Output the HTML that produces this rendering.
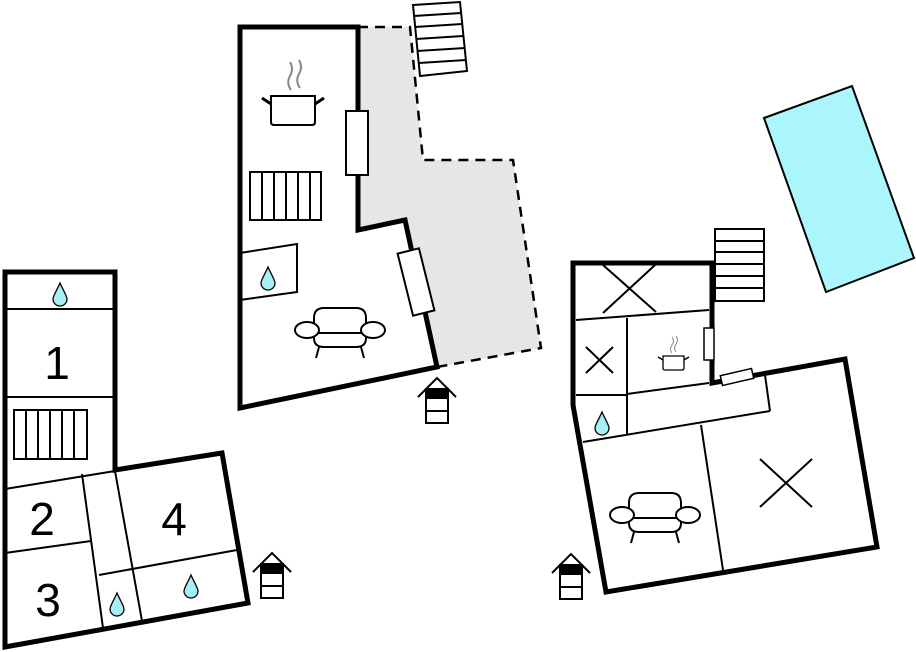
<!DOCTYPE html>
<html><head><meta charset="utf-8"><style>
html,body{margin:0;padding:0;background:#fff;}
svg{display:block;}
text{font-family:"Liberation Sans",sans-serif;}
</style></head><body>
<svg width="916" height="652" viewBox="0 0 916 652" xmlns="http://www.w3.org/2000/svg">
<defs>
  <g id="drop"><path d="M0,-11 C3,-4 7,2 7,5 A7,7 0 0 1 -7,5 C-7,2 -3,-4 0,-11 Z" fill="#a8eef5" stroke="#000" stroke-width="1.3"/></g>
  <g id="ent" fill="none" stroke="#000">
    <path d="M-19,22 L0,3 L19,22" stroke-width="2"/>
    <rect x="-11" y="14" width="22" height="34" fill="#fff" stroke-width="2"/>
    <rect x="-11" y="14" width="22" height="10" fill="#000" stroke="none"/>
    <line x1="-11" y1="36" x2="11" y2="36" stroke-width="2"/>
  </g>
  <g id="sofa" fill="#fff" stroke="#000" stroke-width="2">
    <path d="M-26,0 L-26,-12 Q-26,-22 -16,-22 L16,-22 Q26,-22 26,-12 L26,0"/>
    <path d="M-26,3 L-26,8 Q-26,17 -16,17 L16,17 Q26,17 26,8 L26,3"/>
    <line x1="-24" y1="3" x2="24" y2="3"/>
    <ellipse cx="-33" cy="0" rx="12" ry="8"/>
    <ellipse cx="33" cy="0" rx="12" ry="8"/>
    <line x1="-21" y1="17" x2="-24" y2="28"/>
    <line x1="21" y1="17" x2="24" y2="28"/>
  </g>
</defs>

<!-- Pool -->
<polygon points="764,118 852,86 914,258 826,292" fill="#aaf6fc" stroke="#000" stroke-width="2"/>

<!-- ===== Left building ===== -->
<g fill="none" stroke="#000">
  <polygon points="5,272 115,272 115,470 222,453 248,603 5,647" stroke-width="5" stroke-linejoin="miter" fill="#fff"/>
  <line x1="5" y1="309" x2="115" y2="309" stroke-width="2"/>
  <line x1="5" y1="397" x2="115" y2="397" stroke-width="2"/>
  <line x1="5" y1="489" x2="115" y2="471" stroke-width="2"/>
  <line x1="5" y1="553" x2="91" y2="541" stroke-width="2"/>
  <line x1="82" y1="474" x2="103" y2="628" stroke-width="2"/>
  <line x1="115" y1="471" x2="142" y2="621" stroke-width="2"/>
  <line x1="99" y1="575" x2="237" y2="550" stroke-width="2"/>
  <rect x="14" y="410" width="73" height="49" stroke-width="2"/>
  <path d="M26,410V459M38,410V459M50,410V459M62,410V459M74,410V459" stroke-width="2"/>
</g>
<text x="57" y="379" font-size="46" text-anchor="middle">1</text>
<text x="42" y="535" font-size="46" text-anchor="middle">2</text>
<text x="48" y="616" font-size="46" text-anchor="middle">3</text>
<text x="174" y="535" font-size="46" text-anchor="middle">4</text>
<use href="#drop" x="60" y="294"/>
<use href="#drop" x="117" y="604"/>
<use href="#drop" x="191" y="586"/>
<use href="#ent" x="272" y="550"/>

<!-- ===== Middle building ===== -->
<polygon points="358,27 410,27 423,160 513,160 541,348 437,367 405,220 358,230" fill="#e6e6e6"/>
<path d="M358,27 L410,27 L423,160 L513,160 L541,348 L437,367" fill="none" stroke="#000" stroke-width="2.5" stroke-dasharray="10,7"/>
<g fill="none" stroke="#000">
  <polygon points="240,27 358,27 358,230 405,220 437,367 240,408" stroke-width="5" fill="none"/>
  <rect x="346" y="111" width="22" height="64" fill="#fff" stroke-width="2"/>
  <rect x="-11" y="-32" width="22" height="64" fill="#fff" stroke-width="2" transform="translate(416,282) rotate(-14)"/>
  <rect x="250" y="172" width="71" height="48" stroke-width="2"/>
  <path d="M262,172V220M274,172V220M286,172V220M298,172V220M310,172V220" stroke-width="2"/>
  <polygon points="240,253 297,244 297,292 240,300" stroke-width="2"/>
  <path d="M271,96 H315 V122 Q315,125 312,125 H274 Q271,125 271,122 Z" fill="#fff" stroke-width="2"/>
  <path d="M271,104 L262,98 M315,104 L324,98" stroke-width="3"/>
  <path d="M291,90 Q286,83 290,76 Q294,69 290,62 M300,88 Q295,81 299,74 Q303,67 299,60" stroke="#888" stroke-width="2"/>
  <polygon points="413,5 460,2 467,71 420,76" fill="#fff" stroke-width="2"/>
  <path d="M414,16 L461,13 M415,27 L462,24 M416,39 L463,36 M417,51 L465,48 M419,63 L466,60" stroke-width="2"/>
</g>
<use href="#drop" x="268" y="278"/>
<use href="#sofa" x="340" y="330"/>
<use href="#ent" x="437" y="375"/>

<!-- ===== Right building ===== -->
<g fill="none" stroke="#000">
  <rect x="715" y="229" width="49" height="72" fill="#fff" stroke-width="2"/>
  <path d="M715,241H764M715,252H764M715,264H764M715,276H764M715,288H764" stroke-width="2"/>
  <path d="M712,383 L845,359 L877,547 L606,592 L573,405 L573,263 L712,263 Z" stroke-width="5" fill="#fff"/>
  <line x1="576" y1="320" x2="709" y2="310" stroke-width="2"/>
  <line x1="603" y1="265" x2="656" y2="312" stroke-width="2"/>
  <line x1="655" y1="265" x2="603" y2="313" stroke-width="2"/>
  <line x1="627" y1="318" x2="627" y2="435" stroke-width="2"/>
  <line x1="576" y1="395" x2="627" y2="395" stroke-width="2"/>
  <line x1="627" y1="394" x2="709" y2="383" stroke-width="2"/>
  <line x1="765" y1="375" x2="770" y2="411" stroke-width="2"/>
  <line x1="583" y1="442" x2="770" y2="411" stroke-width="2"/>
  <line x1="701" y1="425" x2="723" y2="570" stroke-width="2"/>
  <line x1="586" y1="347" x2="613" y2="373" stroke-width="2"/>
  <line x1="613" y1="347" x2="586" y2="373" stroke-width="2"/>
  <line x1="760" y1="459" x2="812" y2="507" stroke-width="2"/>
  <line x1="812" y1="459" x2="760" y2="507" stroke-width="2"/>
  <rect x="704" y="328" width="10" height="32" fill="#fff" stroke-width="1.5"/>
  <rect x="-16" y="-5" width="32" height="10" fill="#fff" stroke-width="1.5" transform="translate(737,377) rotate(-13)"/>
  <path d="M663,356 H684 V368 Q684,370 682,370 H665 Q663,370 663,368 Z" fill="#fff" stroke-width="1.3"/>
  <path d="M663,360 L658,357 M684,360 L689,357" stroke-width="1.5"/>
  <path d="M672,353 Q669,349 672,345 Q675,341 672,337 M676,352 Q673,348 676,344 Q679,340 676,336" stroke="#888" stroke-width="1"/>
</g>
<use href="#drop" x="602" y="423"/>
<use href="#sofa" x="655" y="515"/>
<use href="#ent" x="571" y="551"/>
</svg>
</body></html>
